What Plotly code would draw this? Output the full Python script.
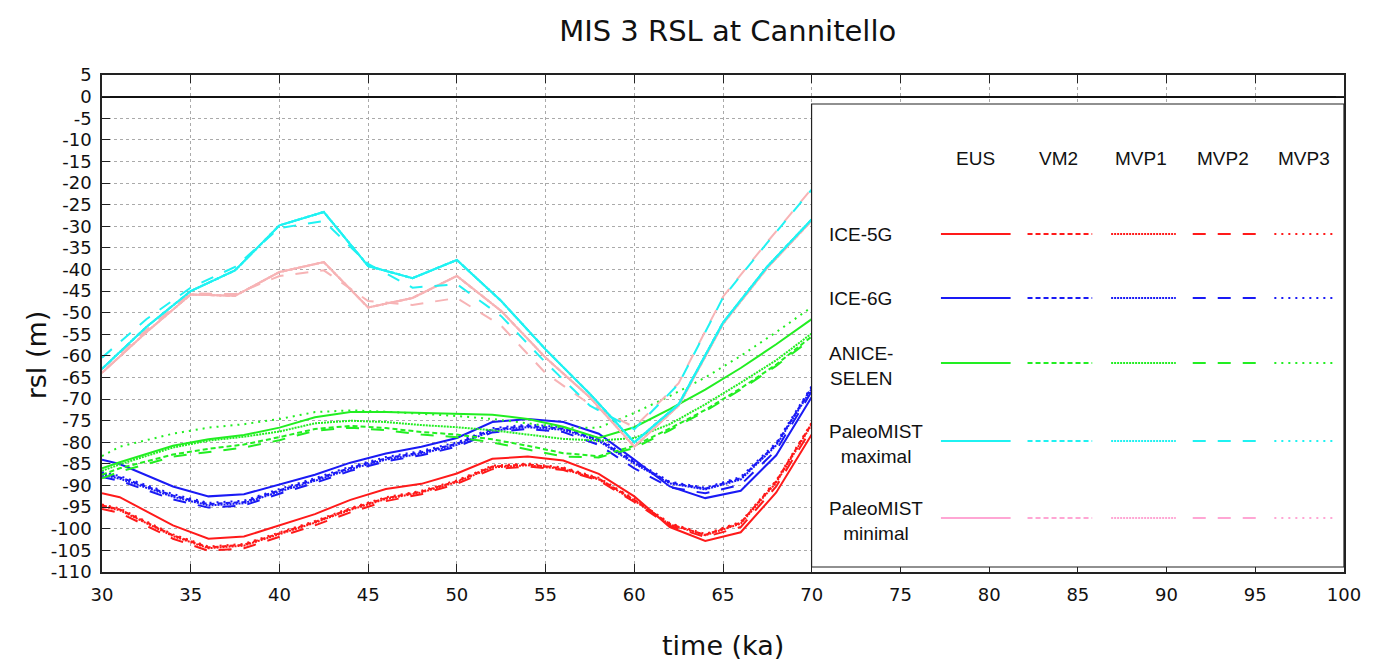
import plotly.graph_objects as go

# ---------------- data ----------------
t_ice = [30, 31, 34, 36, 38, 40, 42, 44, 46, 48, 50, 52, 54, 56, 58, 60, 62, 64, 66, 68, 70]

ice5g_eus  = [-91.8, -92.7, -99.2, -102.3, -101.8, -99.2, -96.6, -93.3, -90.8, -89.6, -87.2, -83.8, -83.3, -84.2, -87.3, -92.5, -99.6, -102.8, -100.8, -91.6, -78.2]
ice5g_vm2  = [-94.6, -95.5, -101.5, -104.3, -103.7, -101.0, -98.4, -95.4, -92.9, -91.4, -89.0, -85.6, -85.1, -86.0, -88.4, -93.3, -98.9, -101.4, -98.6, -89.0, -75.6]
ice5g_mvp1 = [-94.8, -95.7, -101.7, -104.5, -103.9, -101.2, -98.6, -95.6, -93.1, -91.6, -89.2, -85.8, -85.3, -86.2, -88.6, -93.5, -99.0, -101.5, -98.8, -89.3, -75.9]
ice5g_mvp2 = [-95.4, -96.3, -102.3, -105.1, -104.5, -101.8, -99.2, -96.2, -93.6, -92.0, -89.6, -86.2, -85.6, -86.4, -88.8, -93.8, -99.3, -101.9, -99.6, -90.2, -76.8]
ice5g_mvp3 = [-94.4, -95.3, -101.3, -104.1, -103.5, -100.8, -98.2, -95.2, -92.7, -91.2, -88.8, -85.4, -84.9, -85.8, -88.2, -93.1, -98.7, -101.2, -98.4, -88.8, -75.4]

ice6g_eus  = [-84.0, -85.0, -90.2, -92.5, -92.0, -89.8, -87.5, -84.7, -82.6, -81.0, -79.0, -75.3, -74.6, -75.3, -78.0, -84.0, -90.2, -92.9, -91.2, -83.0, -69.5]
ice6g_vm2  = [-87.2, -88.1, -92.3, -94.3, -93.8, -91.1, -88.6, -85.9, -83.7, -82.3, -80.3, -77.0, -76.2, -76.8, -79.4, -84.6, -89.3, -90.7, -88.3, -80.4, -67.3]
ice6g_mvp1 = [-87.5, -88.4, -92.6, -94.6, -94.1, -91.4, -88.9, -86.2, -84.0, -82.6, -80.6, -77.3, -76.5, -77.1, -79.7, -84.9, -89.5, -90.9, -88.6, -80.7, -67.6]
ice6g_mvp2 = [-88.0, -88.9, -93.2, -95.1, -94.6, -91.9, -89.4, -86.6, -84.4, -83.0, -81.0, -77.7, -76.9, -77.6, -80.6, -86.0, -90.4, -91.8, -89.8, -81.8, -68.2]
ice6g_mvp3 = [-86.9, -87.8, -92.0, -94.0, -93.5, -90.8, -88.3, -85.6, -83.4, -82.0, -80.0, -76.7, -75.9, -76.5, -79.1, -84.3, -89.1, -90.5, -88.0, -80.1, -67.0]

anice_eus  = [-86.0, -84.6, -80.8, -79.3, -78.3, -76.6, -74.2, -73.0, -73.0, -73.2, -73.3, -73.6, -74.6, -76.4, -79.0, -76.5, -72.3, -67.8, -62.8, -57.3, -51.5]
anice_vm2  = [-87.5, -86.0, -82.8, -81.5, -80.5, -78.8, -76.9, -76.2, -76.7, -77.6, -78.2, -79.3, -80.8, -82.5, -83.2, -80.8, -76.8, -72.5, -67.5, -62.0, -55.5]
anice_mvp1 = [-86.6, -85.1, -81.2, -79.6, -78.7, -77.5, -75.6, -75.0, -75.3, -76.0, -76.5, -77.2, -78.2, -79.2, -79.6, -79.0, -75.8, -71.2, -66.2, -61.0, -54.8]
anice_mvp2 = [-88.3, -86.8, -83.3, -82.2, -81.2, -79.5, -77.3, -76.6, -77.2, -78.2, -78.8, -80.0, -81.6, -83.3, -83.5, -81.3, -77.2, -72.8, -67.8, -62.3, -56.0]
anice_mvp3 = [-83.2, -81.0, -78.0, -76.6, -75.8, -74.6, -73.0, -72.6, -72.9, -73.4, -73.9, -74.6, -75.6, -76.6, -76.6, -73.2, -69.3, -65.0, -60.0, -54.5, -48.7]

t_pm = [30, 32.5, 35, 37.5, 40, 42.5, 45, 47.5, 50, 52.5, 55, 57.5, 60, 62.5, 65, 67.5, 70]

pmmax_eus  = [-63.0, -53.3, -45.0, -40.2, -29.8, -26.7, -39.2, -42.0, -37.8, -47.3, -58.5, -68.8, -80.0, -71.2, -52.3, -39.3, -28.4]
pmmax_vm2  = pmmax_eus
pmmax_mvp1 = pmmax_eus
pmmax_mvp2 = [-60.4, -51.5, -44.2, -39.4, -30.4, -28.8, -38.7, -44.2, -43.4, -50.8, -61.5, -71.5, -77.0, -66.5, -46.5, -33.8, -21.5]
pmmax_mvp3 = pmmax_eus

pmmin_eus  = [-63.9, -54.5, -45.8, -46.1, -40.6, -38.3, -48.8, -46.6, -41.5, -49.6, -60.4, -69.6, -81.0, -71.5, -52.6, -39.6, -28.7]
pmmin_vm2  = pmmin_eus
pmmin_mvp1 = pmmin_eus
pmmin_mvp2 = [-63.0, -54.0, -45.5, -45.7, -41.5, -40.2, -47.3, -48.2, -46.6, -53.0, -64.0, -71.2, -76.5, -66.3, -46.3, -33.6, -21.3]
pmmin_mvp3 = pmmin_eus

earth_models = ["EUS", "VM2", "MVP1", "MVP2", "MVP3"]
ice_labels = ["ICE-5G", "ICE-6G", "ANICE-<br>SELEN", "PaleoMIST<br>maximal", "PaleoMIST<br>minimal"]
x_ticks = list(range(30, 101, 5))
y_ticks = list(range(-110, 6, 5))
x_ticktext = [str(v) for v in x_ticks]
y_ticktext = [str(v) for v in y_ticks]

# ---------------- styles ----------------
line_colors = ["#FF1A1A", "#1A1AF5", "#22EE22", "#1FF2F2", "#F7B3B5"]
legend_colors = ["#FF1A1A", "#1A1AF5", "#22EE22", "#1FF2F2", "#FFA6D4"]
dashes = ["solid", "5px,3px", "2px,1px", "13px,12px", "2px,5px"]

series = [
    (t_ice, [ice5g_eus, ice5g_vm2, ice5g_mvp1, ice5g_mvp2, ice5g_mvp3]),
    (t_ice, [ice6g_eus, ice6g_vm2, ice6g_mvp1, ice6g_mvp2, ice6g_mvp3]),
    (t_ice, [anice_eus, anice_vm2, anice_mvp1, anice_mvp2, anice_mvp3]),
    (t_pm, [pmmax_eus, pmmax_vm2, pmmax_mvp1, pmmax_mvp2, pmmax_mvp3]),
    (t_pm, [pmmin_eus, pmmin_vm2, pmmin_mvp1, pmmin_mvp2, pmmin_mvp3]),
]
draw_order = [0, 1, 2, 4, 3]  # pink drawn below cyan

fig = go.Figure()
for i in draw_order:
    tt, ys = series[i]
    for j in [1, 2, 4, 3, 0]:
        fig.add_trace(go.Scatter(
            x=tt, y=ys[j], mode="lines",
            name=ice_labels[i].replace("<br>", " ") + " " + earth_models[j],
            line=dict(color=line_colors[i], width=2, dash=dashes[j]),
            showlegend=False, hoverinfo="skip"))

# ---------------- layout ----------------
W, H = 1373, 661
PL, PR, PT, PB = 102, 1350, 75, 572

def pxx(x):
    return (x - PL) / (PR - PL)

def pxy(y):
    return (PB - y) / (PB - PT)

shapes = [dict(type="rect", xref="paper", yref="paper",
               x0=pxx(815), x1=pxx(1350), y0=pxy(567), y1=pxy(104),
               fillcolor="white", line=dict(color="#222", width=1.2), layer="above")]
annotations = []

col_centers = [980, 1063, 1146, 1228, 1310]
col_spans = [(945, 1015), (1032, 1097), (1116, 1181), (1198, 1262), (1280, 1340)]
row_y = [234, 298, 363, 441, 518]
header_y = 158
LEG_FONT = "Liberation Sans, Arial"

for j, name in enumerate(earth_models):
    annotations.append(dict(xref="paper", yref="paper", x=pxx(col_centers[j]), y=pxy(header_y),
                            text=name, showarrow=False, xanchor="center", yanchor="middle",
                            font=dict(family=LEG_FONT, size=19, color="#111")))
for i, lab in enumerate(ice_labels):
    annotations.append(dict(xref="paper", yref="paper", x=pxx(831), y=pxy(row_y[i] + (3 if "<br>" in lab else 0)),
                            text=lab, showarrow=False, xanchor="left", yanchor="middle", align="center",
                            font=dict(family=LEG_FONT, size=19, color="#111")))
    for j in range(5):
        x0, x1 = col_spans[j]
        shapes.append(dict(type="line", xref="paper", yref="paper",
                           x0=pxx(x0), x1=pxx(x1), y0=pxy(row_y[i]), y1=pxy(row_y[i]),
                           line=dict(color=legend_colors[i], width=2, dash=dashes[j]), layer="above"))

annotations.append(dict(xref="paper", yref="paper", x=0.5, y=pxy(645), text="time (ka)",
                        showarrow=False, xanchor="center", yanchor="middle",
                        font=dict(family="DejaVu Sans, Verdana", size=27, color="#111")))
annotations.append(dict(xref="paper", yref="paper", x=pxx(36), y=pxy(355), text="rsl (m)",
                        showarrow=False, xanchor="center", yanchor="middle", textangle=-90,
                        font=dict(family="DejaVu Sans, Verdana", size=27, color="#111")))

axis_common = dict(showline=True, linecolor="#222", linewidth=1.5, mirror="ticks",
                   ticks="inside", ticklen=8, tickcolor="#222", tickwidth=1,
                   showgrid=True, gridcolor="#aaaaaa", gridwidth=1, griddash="dot",
                   tickfont=dict(family="DejaVu Sans, Verdana", size=18, color="#111"))

fig.update_layout(
    width=W, height=H,
    margin=dict(l=PL, r=W - PR, t=PT, b=H - PB),
    paper_bgcolor="white", plot_bgcolor="white",
    title=dict(text="MIS 3 RSL at Cannitello", x=0.53, xanchor="center", y=1 - 31 / H, yanchor="middle",
               font=dict(family="DejaVu Sans, Verdana", size=29, color="#111")),
    xaxis=dict(range=[30, 100], tickvals=x_ticks, ticktext=x_ticktext, zeroline=False,
               ticklabelstandoff=6, **axis_common),
    yaxis=dict(range=[-110, 5], tickvals=y_ticks, ticktext=y_ticktext, zeroline=True,
               zerolinecolor="#111", zerolinewidth=2, ticklabelstandoff=5, **axis_common),
    shapes=shapes, annotations=annotations,
)

fig.write_html("out.html", config={"displayModeBar": False},
               post_script="document.body.style.margin='0px';document.body.style.overflow='hidden';")
